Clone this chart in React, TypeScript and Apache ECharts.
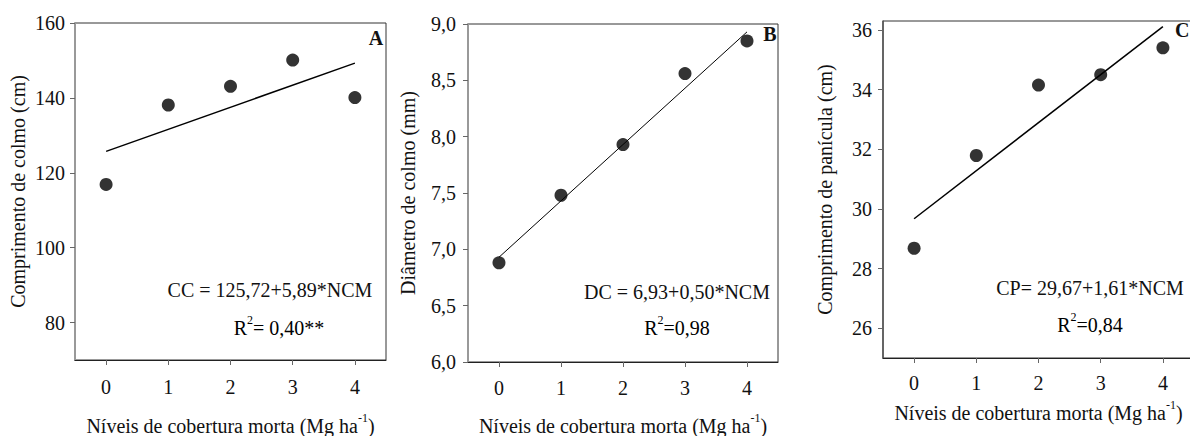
import React, { useEffect, useRef } from "react";
import * as echarts from "echarts";

const levels = [0, 1, 2, 3, 4];
const colmoLength = [116.9, 138.1, 143.1, 150.1, 140.1];
const colmoDiameter = [6.88, 7.48, 7.93, 8.56, 8.85];
const paniculaLength = [28.68, 31.79, 34.15, 34.5, 35.4];

const fitX = [0, 4];
const fitA = [125.72, 149.28];
const fitB = [6.93, 8.93];
const fitC = [29.67, 36.11];

const xTicks = [0, 1, 2, 3, 4];
const yTicksA = [80, 100, 120, 140, 160];
const yTicksC = [26, 28, 30, 32, 34, 36];

const FONT = "Liberation Serif";
const TXT = "#111";

const xName = "{n|Níveis de cobertura morta (Mg ha}{s|-1}{n|)}";
const supRich = {
  n: { fontSize: 20, fontFamily: FONT, color: TXT, lineHeight: 24, verticalAlign: "bottom" },
  s: { fontSize: 12, fontFamily: FONT, color: TXT, lineHeight: 24, verticalAlign: "top" },
};

function makeX(gridIndex: number, nameGap: number, margin: number) {
  return {
    type: "value",
    gridIndex,
    min: -0.5,
    max: 4.5,
    name: xName,
    nameLocation: "middle",
    nameGap,
    nameTextStyle: { fontFamily: FONT, fontSize: 20, color: TXT, rich: supRich },
    axisLine: { onZero: false, lineStyle: { color: "#222", width: 1 } },
    axisTick: { show: true, customValues: xTicks, length: 5, lineStyle: { color: "#666" } },
    axisLabel: { customValues: xTicks, margin, fontSize: 20, fontFamily: FONT, color: TXT },
    splitLine: { show: false },
  };
}

function mkPoints(ys: number[]) {
  return levels.map((x, i) => [x, ys[i]]);
}
function mkFit(ys: number[]) {
  return fitX.map((x, i) => [x, ys[i]]);
}

export default function App() {
  const ref = useRef<HTMLDivElement>(null);
  useEffect(() => {
    if (!ref.current) return;
    const chart = echarts.init(ref.current, undefined, { renderer: "svg" });
    const yLabel = { fontSize: 20, fontFamily: FONT, color: TXT };
    const yName = { fontSize: 20, fontFamily: FONT, color: TXT };
    const gridStyle = { show: true, borderColor: "#333", borderWidth: 1, containLabel: false, outerBoundsMode: "none" };
    const option: any = {
      animation: false,
      backgroundColor: "#fff",
      textStyle: { fontFamily: FONT },
      grid: [
        { left: 75, right: 804, top: 23, bottom: 76, ...gridStyle },
        { left: 468, right: 412, top: 24, bottom: 74, ...gridStyle },
        { left: 883, right: -4, top: 21, bottom: 78, ...gridStyle },
      ],
      xAxis: [makeX(0, 52, 17), makeX(1, 50, 16), makeX(2, 41, 15)],
      yAxis: [
        {
          type: "value",
          gridIndex: 0,
          min: 70,
          max: 160,
          name: "Comprimento de colmo (cm)",
          nameLocation: "middle",
          nameGap: 47,
          nameTextStyle: yName,
          axisLine: { show: true, onZero: false, lineStyle: { color: "#999", width: 2 } },
          axisTick: { show: true, customValues: yTicksA, length: 5, lineStyle: { color: "#666" } },
          axisLabel: { customValues: yTicksA, margin: 10, ...yLabel },
          splitLine: { show: false },
        },
        {
          type: "value",
          gridIndex: 1,
          min: 6,
          max: 9,
          interval: 0.5,
          name: "Diâmetro de colmo (mm)",
          nameLocation: "middle",
          nameGap: 50,
          nameTextStyle: yName,
          axisLine: { show: true, onZero: false, lineStyle: { color: "#999", width: 2 } },
          axisTick: { show: true, length: 5, lineStyle: { color: "#666" } },
          axisLabel: {
            margin: 12,
            formatter: (v: number) => v.toFixed(1).replace(".", ","),
            ...yLabel,
          },
          splitLine: { show: false },
        },
        {
          type: "value",
          gridIndex: 2,
          min: 25,
          max: 36.3,
          name: "Comprimento de panícula (cm)",
          nameLocation: "middle",
          nameGap: 48,
          nameTextStyle: yName,
          axisLine: { show: true, onZero: false, lineStyle: { color: "#555", width: 1.5 } },
          axisTick: { show: true, customValues: yTicksC, length: 5, lineStyle: { color: "#666" } },
          axisLabel: { customValues: yTicksC, margin: 11, ...yLabel },
          splitLine: { show: false },
        },
      ],
      series: [
        { type: "scatter", xAxisIndex: 0, yAxisIndex: 0, data: mkPoints(colmoLength), symbolSize: 13, itemStyle: { color: "#000" }, z: 3 },
        { type: "line", xAxisIndex: 0, yAxisIndex: 0, data: mkFit(fitA), showSymbol: false, lineStyle: { color: "#000", width: 1.5 } },
        { type: "scatter", xAxisIndex: 1, yAxisIndex: 1, data: mkPoints(colmoDiameter), symbolSize: 13, itemStyle: { color: "#000" }, z: 3 },
        { type: "line", xAxisIndex: 1, yAxisIndex: 1, data: mkFit(fitB), showSymbol: false, lineStyle: { color: "#000", width: 1 } },
        { type: "scatter", xAxisIndex: 2, yAxisIndex: 2, data: mkPoints(paniculaLength), symbolSize: 13, itemStyle: { color: "#000" }, z: 3 },
        { type: "line", xAxisIndex: 2, yAxisIndex: 2, data: mkFit(fitC), showSymbol: false, lineStyle: { color: "#000", width: 1.5 } },
      ],
      graphic: [
        { type: "text", x: 270, y: 290, style: { text: "CC = 125,72+5,89*NCM", font: `20px ${FONT}`, fill: TXT, textAlign: "center", textVerticalAlign: "middle" } },
        { type: "text", x: 279, y: 326, style: { text: "{n|R}{s|2}{n|= 0,40**}", rich: supRich, textAlign: "center", textVerticalAlign: "middle" } },
        { type: "text", x: 376, y: 38, style: { text: "A", font: `bold 20px ${FONT}`, fill: TXT, textAlign: "center", textVerticalAlign: "middle" } },
        { type: "text", x: 677, y: 292, style: { text: "DC = 6,93+0,50*NCM", font: `20px ${FONT}`, fill: TXT, textAlign: "center", textVerticalAlign: "middle" } },
        { type: "text", x: 677, y: 326, style: { text: "{n|R}{s|2}{n|=0,98}", rich: supRich, textAlign: "center", textVerticalAlign: "middle" } },
        { type: "text", x: 770, y: 34, style: { text: "B", font: `bold 20px ${FONT}`, fill: TXT, textAlign: "center", textVerticalAlign: "middle" } },
        { type: "text", x: 1090, y: 288, style: { text: "CP= 29,67+1,61*NCM", font: `20px ${FONT}`, fill: TXT, textAlign: "center", textVerticalAlign: "middle" } },
        { type: "text", x: 1090, y: 323, style: { text: "{n|R}{s|2}{n|=0,84}", rich: supRich, textAlign: "center", textVerticalAlign: "middle" } },
        { type: "text", x: 1175, y: 30, style: { text: "C", font: `bold 20px ${FONT}`, fill: TXT, textAlign: "left", textVerticalAlign: "middle" } },
      ],
    };
    chart.setOption(option);
    return () => chart.dispose();
  }, []);
  return (
    <div
      ref={ref}
      style={{ position: "absolute", left: 0, top: 0, width: 1190, height: 436, overflow: "hidden" }}
    />
  );
}
